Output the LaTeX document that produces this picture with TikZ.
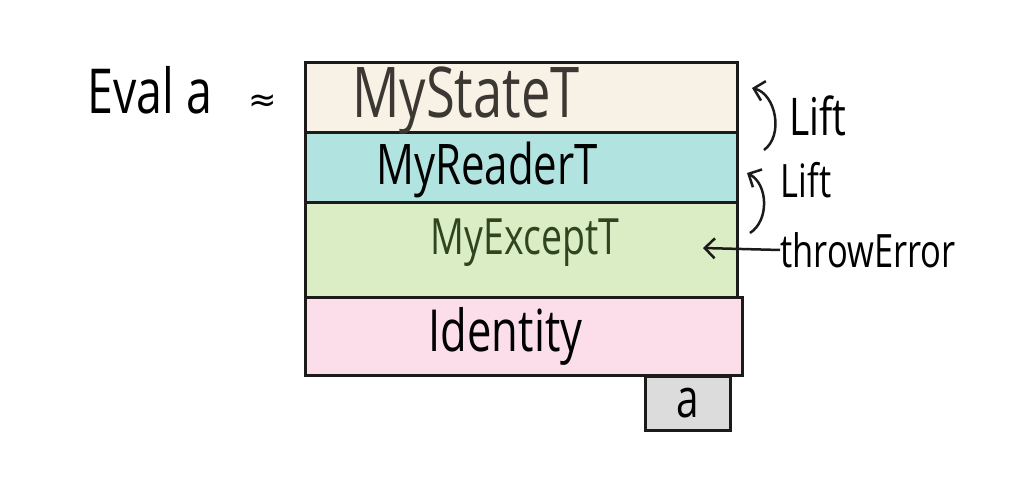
\documentclass[tikz,border=0pt]{standalone}
\usepackage{fontspec}
\usetikzlibrary{positioning, arrows.meta}
\newfontfamily\hand[FakeStretch=0.75]{Open Sans}
\newfontfamily\symb{DejaVu Sans}
\newcommand\handat[1]{\fontsize{#1}{#1}\selectfont\hand}
\definecolor{edgecol}{HTML}{1C1B1A}
\definecolor{statecol}{HTML}{F8F1E5}
\definecolor{readercol}{HTML}{B1E3E0}
\definecolor{exceptcol}{HTML}{DAEDC5}
\definecolor{identcol}{HTML}{FCDEEA}
\definecolor{valcol}{HTML}{DCDCDC}
\definecolor{statetext}{HTML}{3B3833}
\definecolor{excepttext}{HTML}{2F4521}
\tikzset{
        layer/.style={draw=edgecol, line width=3pt, minimum width=432pt,
                inner sep=0pt, outer sep=0pt, anchor=north west},
        word/.style={inner sep=0pt, text=black},
        liftarrow/.style={-{Straight Barb[length=10pt,width=20pt,line width=2.5pt]}, line width=2.5pt, edgecol},
        }

\begin{document}
\begin{tikzpicture}[x=1pt, y=-1pt]
        \useasboundingbox (0,0) rectangle (1023,489);
        % the stack of transformers
        \node[layer, fill=statecol, minimum height=70pt] (state) at (305,63) {};
        \node[layer, fill=readercol, minimum height=70pt] (reader) at (state.south west) {};
        \node[layer, fill=exceptcol, minimum height=94pt] (except) at (reader.south west) {};
        \node[layer, fill=identcol, minimum height=78pt, minimum width=437pt] (ident) at (except.south west) {};
        \node[draw=edgecol, line width=3pt, fill=valcol, minimum width=85pt, minimum height=54pt,
              anchor=north east, inner sep=0pt, font=\handat{54}] (val) at ([xshift=-10pt]ident.south east) {a};

        \node[word, text=statetext, font=\handat{70}] (stateT) at ([xshift=-55pt,yshift=-3pt]state.center) {MyStateT};
        \node[word, font=\handat{56}] (readerT) at ([xshift=-34pt,yshift=-2pt]reader.center) {MyReaderT};
        \node[word, text=excepttext, font=\handat{50}] (exceptT) at ([xshift=4pt,yshift=7pt]except.center) {MyExceptT};
        \node[word, font=\handat{58}] (identT) at ([xshift=-18pt]ident.center) {Identity};

        \node[word, font=\handat{62}] (evala) at (150,90) {Eval a};
        \node[word, font=\fontsize{34}{34}\selectfont\symb] (approx) at (263,103) {≈};

        % lifting on the right
        \node[word, font=\handat{52}] (lift1) at (818,116) {Lift};
        \node[word, font=\handat{46}] (lift2) at (806,180) {Lift};
        \node[word, font=\handat{46}] (throw) at (868,250) {throwError};
        \coordinate (l1s) at (764,150);
        \coordinate (l1e) at (752,88);
        \coordinate (l2s) at (750,233);
        \coordinate (l2e) at (747,173);
        \coordinate (thr) at (703,248);
        \draw[liftarrow] (l1s) to[bend right=65] (l1e);
        \draw[liftarrow] (l2s) to[bend right=60] (l2e);
        \draw[liftarrow] (throw.west) -- (thr);
\end{tikzpicture}
\end{document}
